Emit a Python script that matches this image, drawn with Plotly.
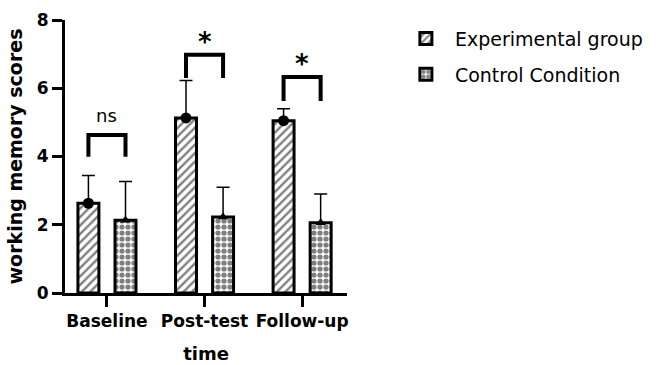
import plotly.graph_objects as go

# Working-memory scores by time point (mean and SD)
timepoints = ["Baseline", "Post-test", "Follow-up"]
exp_mean = [2.63, 5.13, 5.05]
exp_sd = [0.81, 1.10, 0.35]
ctrl_mean = [2.13, 2.23, 2.06]
ctrl_sd = [1.14, 0.87, 0.84]

# Significance brackets between the two groups at each time point
sig_labels = ["ns", "*", "*"]
bracket_top = [4.63, 6.98, 6.33]
bracket_low = [3.99, 6.30, 5.63]

pos = list(range(len(timepoints)))
shift = 0.19      # distance of each bar centre from the category centre
bar_w = 0.215     # bar width in axis units

FONT = "DejaVu Sans"

fig = go.Figure()

fig.add_trace(go.Bar(
    x=pos, y=exp_mean, width=bar_w, offset=-shift - bar_w / 2,
    name="Experimental group", legendgroup="exp",
    marker=dict(color="white", line=dict(color="black", width=3),
                pattern=dict(shape="/", fgcolor="black", bgcolor="white",
                             size=6, solidity=0.4)),
))
fig.add_trace(go.Bar(
    x=pos, y=ctrl_mean, width=bar_w, offset=shift - bar_w / 2,
    name="Control Condition", legendgroup="ctrl",
    marker=dict(color="white", line=dict(color="black", width=3),
                pattern=dict(shape=".", fgcolor="black", bgcolor="white",
                             size=6, solidity=0.6)),
))

# Group means with one-sided SD error bars
fig.add_trace(go.Scatter(
    x=[p - shift for p in pos], y=exp_mean, mode="markers", showlegend=False,
    legendgroup="exp",
    marker=dict(symbol="circle", size=11, color="black"),
    error_y=dict(type="data", symmetric=False, array=exp_sd,
                 arrayminus=[0] * len(exp_sd), color="black",
                 thickness=1.5, width=6.5),
))
fig.add_trace(go.Scatter(
    x=[p + shift for p in pos], y=ctrl_mean, mode="markers", showlegend=False,
    legendgroup="ctrl",
    marker=dict(symbol="triangle-up", size=9, color="black"),
    error_y=dict(type="data", symmetric=False, array=ctrl_sd,
                 arrayminus=[0] * len(ctrl_sd), color="black",
                 thickness=1.5, width=6.5),
))

# Brackets
bx, by = [], []
for p, top, low in zip(pos, bracket_top, bracket_low):
    bx += [p - shift, p - shift, p + shift, p + shift, None]
    by += [low, top, top, low, None]
fig.add_trace(go.Scatter(
    x=bx, y=by, mode="lines", showlegend=False, hoverinfo="skip",
    line=dict(color="black", width=4),
))

for p, top, lab in zip(pos, bracket_top, sig_labels):
    if lab == "ns":
        font = dict(family=FONT, size=18, color="black")
        ys = 7
    else:
        font = dict(family=FONT, size=26, color="black", weight="bold")
        ys = -4
    fig.add_annotation(x=p, y=top, text=lab, showarrow=False,
                       yanchor="bottom", yshift=ys, font=font)

fig.update_layout(
    width=656, height=365,
    margin=dict(l=65, r=309, t=20, b=72),
    plot_bgcolor="white", paper_bgcolor="white",
    font=dict(family=FONT, color="black"),
    showlegend=True,
    legend=dict(xref="container", yref="container", x=0.605, y=0.946,
                xanchor="left", yanchor="top", itemwidth=48,
                font=dict(family=FONT, size=19, color="black"),
                tracegroupgap=8, traceorder="grouped",
                bgcolor="rgba(0,0,0,0)"),
)

fig.update_xaxes(
    range=[-0.43, 2.46], tickmode="array", tickvals=pos, ticktext=timepoints,
    automargin=False,
    showline=True, linewidth=3, linecolor="black", showgrid=False,
    zeroline=False, ticks="outside", ticklen=11, tickwidth=3,
    tickcolor="black",
    tickfont=dict(family=FONT, size=17, color="black", weight="bold"),
    title=dict(text="time", standoff=17,
               font=dict(family=FONT, size=18, color="black", weight="bold")),
)
fig.update_yaxes(
    range=[0, 8], tickmode="array", tickvals=[0, 2, 4, 6, 8],
    automargin=False,
    showline=True, linewidth=3, linecolor="black", showgrid=False,
    zeroline=False, ticks="outside", ticklen=10, tickwidth=3,
    tickcolor="black",
    tickfont=dict(family=FONT, size=17, color="black", weight="bold"),
    title=dict(text="working memory scores", standoff=10,
               font=dict(family=FONT, size=19, color="black", weight="bold")),
)

fig.write_html("out.html")
